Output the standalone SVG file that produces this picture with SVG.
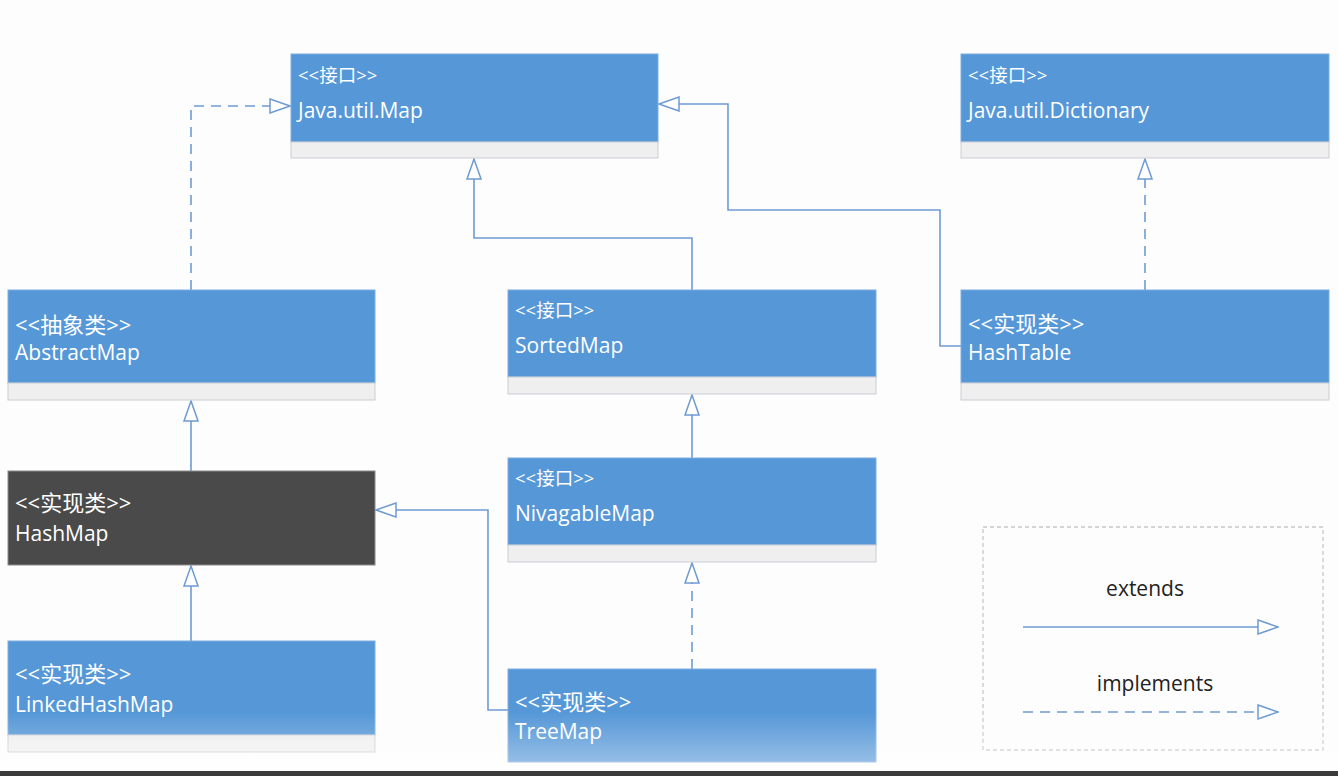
<svg xmlns="http://www.w3.org/2000/svg" width="1338" height="776" viewBox="0 0 1338 776">
<defs>
<style>
.box{fill:#5597d7;stroke:#7eaee0;stroke-width:1}
.dark{fill:#4a4a4a;stroke:#8a8a8a;stroke-width:1}
.strip{fill:#efefef;stroke:#c9cdd3;stroke-width:1}
.st{font-family:"Open Sans","Noto Sans CJK SC",sans-serif;font-size:18.5px;fill:#ffffff}
.stb{font-family:"Open Sans","Noto Sans CJK SC",sans-serif;font-size:22px;fill:#ffffff}
.nm{font-family:"Open Sans","Noto Sans CJK SC",sans-serif;font-size:21px;fill:#ffffff}
.lg{font-family:"Open Sans","Noto Sans CJK SC",sans-serif;font-size:21px;fill:#222222}
.ext{fill:none;stroke:#6e9bd2;stroke-width:1.6}
.imp{fill:none;stroke:#6e9bd2;stroke-width:1.6;stroke-dasharray:10,7}
</style>
<marker id="tri" viewBox="0 0 22 16" refX="21" refY="8" markerWidth="22" markerHeight="16" markerUnits="userSpaceOnUse" orient="auto">
<path d="M1,1 L21,8 L1,15 Z" fill="#ffffff" stroke="#6e9bd2" stroke-width="1.5"/>
</marker>
<linearGradient id="fade" x1="0" y1="0" x2="0" y2="1">
<stop offset="0" stop-color="#ffffff" stop-opacity="0"/>
<stop offset="1" stop-color="#ffffff" stop-opacity="0.45"/>
</linearGradient>
</defs>
<rect x="0" y="0" width="1338" height="776" fill="#fdfdfd"/>

<g id="connectors">
<path class="imp" d="M191,290 V106 H290" marker-end="url(#tri)"/>
<path class="ext" d="M692,290 V238 H474 V159" marker-end="url(#tri)"/>
<path class="ext" d="M961,346 H940 V210 H728 V104 H659" marker-end="url(#tri)"/>
<path class="imp" d="M1145,290 V159" marker-end="url(#tri)"/>
<path class="ext" d="M191,471 V401" marker-end="url(#tri)"/>
<path class="ext" d="M191,641 V566" marker-end="url(#tri)"/>
<path class="ext" d="M692,458 V395" marker-end="url(#tri)"/>
<path class="imp" d="M692,669 V563" marker-end="url(#tri)"/>
<path class="ext" d="M508,710 H488 V510 H376" marker-end="url(#tri)"/>
</g>

<g id="map">
<rect class="box" x="291" y="54" width="367" height="88"/>
<rect class="strip" x="291" y="142" width="367" height="16"/>
<text class="st" x="298" y="82">&lt;&lt;接口&gt;&gt;</text>
<text class="nm" x="298" y="118">Java.util.Map</text>
</g>

<g id="dictionary">
<rect class="box" x="961" y="54" width="368" height="88"/>
<rect class="strip" x="961" y="142" width="368" height="16"/>
<text class="st" x="968" y="82">&lt;&lt;接口&gt;&gt;</text>
<text class="nm" x="968" y="118">Java.util.Dictionary</text>
</g>

<g id="abstractmap">
<rect class="box" x="8" y="290" width="367" height="93"/>
<rect class="strip" x="8" y="383" width="367" height="17"/>
<text class="stb" x="15" y="333">&lt;&lt;抽象类&gt;&gt;</text>
<text class="nm" x="15" y="360">AbstractMap</text>
</g>

<g id="sortedmap">
<rect class="box" x="508" y="290" width="368" height="87"/>
<rect class="strip" x="508" y="377" width="368" height="17"/>
<text class="st" x="515" y="317">&lt;&lt;接口&gt;&gt;</text>
<text class="nm" x="515" y="353">SortedMap</text>
</g>

<g id="hashtable">
<rect class="box" x="961" y="290" width="368" height="93"/>
<rect class="strip" x="961" y="383" width="368" height="17"/>
<text class="stb" x="968" y="332">&lt;&lt;实现类&gt;&gt;</text>
<text class="nm" x="968" y="360">HashTable</text>
</g>

<g id="hashmap">
<rect class="dark" x="8" y="471" width="367" height="94"/>
<text class="stb" x="15" y="511">&lt;&lt;实现类&gt;&gt;</text>
<text class="nm" x="15" y="541">HashMap</text>
</g>

<g id="nivagablemap">
<rect class="box" x="508" y="458" width="368" height="87"/>
<rect class="strip" x="508" y="545" width="368" height="17"/>
<text class="st" x="515" y="485">&lt;&lt;接口&gt;&gt;</text>
<text class="nm" x="515" y="521">NivagableMap</text>
</g>

<g id="linkedhashmap">
<rect class="box" x="8" y="641" width="367" height="94"/>
<rect class="strip" x="8" y="735" width="367" height="17"/>
<text class="stb" x="15" y="682">&lt;&lt;实现类&gt;&gt;</text>
<text class="nm" x="15" y="712">LinkedHashMap</text>
</g>

<g id="treemap">
<rect class="box" x="508" y="669" width="368" height="93"/>
<text class="stb" x="515" y="710">&lt;&lt;实现类&gt;&gt;</text>
<text class="nm" x="515" y="739">TreeMap</text>
</g>

<g id="legend">
<rect x="983" y="527" width="340" height="223" fill="none" stroke="#c8c8c8" stroke-width="1.3" stroke-dasharray="4,3"/>
<text class="lg" x="1145" y="596" text-anchor="middle">extends</text>
<path class="ext" d="M1023,627 H1278" marker-end="url(#tri)"/>
<text class="lg" x="1155" y="691" text-anchor="middle">implements</text>
<path class="imp" d="M1023,712 H1278" marker-end="url(#tri)"/>
</g>

<rect x="0" y="712" width="1338" height="60" fill="url(#fade)"/>
<rect x="0" y="771" width="1338" height="5" fill="#3a3a3a"/>
</svg>
